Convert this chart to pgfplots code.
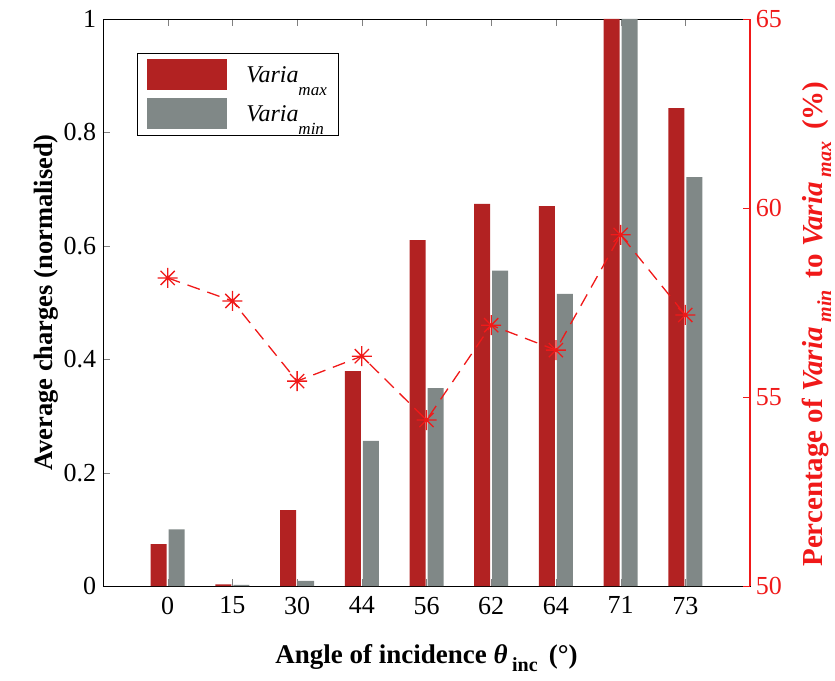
\documentclass[border=0pt]{standalone}
\usepackage{fontspec}
\setmainfont{Liberation Serif}
\usepackage{pgfplots}
\pgfplotsset{compat=1.18}
\definecolor{barred}{RGB}{178,34,34}
\definecolor{bargray}{RGB}{128,136,135}
\definecolor{linered}{RGB}{240,25,25}
\pgfdeclareplotmark{star8}{%
  \pgfpathmoveto{\pgfqpoint{-\pgfplotmarksize}{0pt}}%
  \pgfpathlineto{\pgfqpoint{\pgfplotmarksize}{0pt}}%
  \pgfpathmoveto{\pgfqpoint{0pt}{-\pgfplotmarksize}}%
  \pgfpathlineto{\pgfqpoint{0pt}{\pgfplotmarksize}}%
  \pgfpathmoveto{\pgfqpoint{-0.707\pgfplotmarksize}{-0.707\pgfplotmarksize}}%
  \pgfpathlineto{\pgfqpoint{0.707\pgfplotmarksize}{0.707\pgfplotmarksize}}%
  \pgfpathmoveto{\pgfqpoint{-0.707\pgfplotmarksize}{0.707\pgfplotmarksize}}%
  \pgfpathlineto{\pgfqpoint{0.707\pgfplotmarksize}{-0.707\pgfplotmarksize}}%
  \pgfusepathqstroke}
\begin{document}
\begin{tikzpicture}
\pgfplotsset{every axis/.append style={
  scale only axis, width=647pt, height=567pt,
  /pgf/number format/assume math mode=true,
  tick label style={font=\fontsize{26}{30}\selectfont},
  tick align=inside, major tick length=7pt,
  xmin=0, xmax=10,
  line width=0.9pt}}
\begin{axis}[
  name=main,
  ymin=0, ymax=1,
  xtick={1,...,9}, xticklabels={0,15,30,44,56,62,64,71,73},
  ytick={0,0.2,0.4,0.6,0.8,1},
  yticklabels={0,0.2,0.4,0.6,0.8,1},
  ytick pos=left,
  xticklabel style={yshift=-7pt},
  yticklabel style={xshift=-3pt},
  xlabel={\fontsize{27}{30}\selectfont\textbf{Angle of incidence \textit{θ}\,\raisebox{-8pt}{\fontsize{20}{20}\selectfont inc}\, (°)}},
  xlabel style={at={(axis description cs:0.5,-0.1358)}, anchor=base},
  ylabel={\fontsize{26.5}{30}\selectfont\textbf{Average charges (normalised)}},
  ylabel style={at={(axis description cs:-0.0788,0.5)}, anchor=base},
  legend style={at={(0.0526,0.94)}, anchor=north west, draw=black, line width=0.9pt,
    font=\fontsize{24}{27}\selectfont, row sep=8pt, inner xsep=10pt, inner ysep=6pt,
    cells={anchor=west}},
  legend cell align=left,
]
\addplot[ybar, bar width=16pt, bar shift=-9pt, fill=barred, draw=none,
  legend image code/.code={\fill[barred] (0pt,-15.5pt) rectangle (80pt,15.5pt);}]
  coordinates {(1,0.074) (2,0.003) (3,0.134) (4,0.379) (5,0.610) (6,0.674) (7,0.670) (8,1.0) (9,0.843)};
\addlegendentry{\hspace*{17pt}\textit{Varia}\raisebox{-13pt}{\fontsize{17}{17}\selectfont\textit{max}}}
\addplot[ybar, bar width=16pt, bar shift=9pt, fill=bargray, draw=none,
  legend image code/.code={\fill[bargray] (0pt,-15.5pt) rectangle (80pt,15.5pt);}]
  coordinates {(1,0.100) (2,0.002) (3,0.009) (4,0.256) (5,0.349) (6,0.556) (7,0.515) (8,1.0) (9,0.721)};
\addlegendentry{\hspace*{17pt}\textit{Varia}\raisebox{-13pt}{\fontsize{17}{17}\selectfont\textit{min}}}
\end{axis}
\begin{axis}[
  ymin=50, ymax=65,
  axis y line*=right, axis x line=none,
  ytick={50,55,60,65},
  y axis line style={linered, line width=1.2pt},
  ytick style={linered},
  yticklabel style={linered, xshift=2pt},
  ylabel={\fontsize{29}{32}\selectfont\textbf{Percentage of \textit{Varia}\,\raisebox{-9pt}{\fontsize{20}{20}\selectfont\textit{min}}\, to \textit{Varia}\,\raisebox{-9pt}{\fontsize{20}{20}\selectfont\textit{max}}\, (\%)}},
  ylabel style={linered, at={(axis description cs:1.1113,0.462)}, anchor=base},
]
\addplot[linered, line width=1.3pt, dash pattern=on 13pt off 8pt, mark=star8, mark size=10pt, mark options={solid}]
  coordinates {(1,58.15) (2,57.54) (3,55.42) (4,56.08) (5,54.39) (6,56.90) (7,56.24) (8,59.29) (9,57.17)};
\end{axis}
\pgfresetboundingbox
\path[use as bounding box] ([shift={(-103pt,-94pt)}]main.south west) rectangle ([shift={(85pt,19pt)}]main.north east);
\end{tikzpicture}
\end{document}
